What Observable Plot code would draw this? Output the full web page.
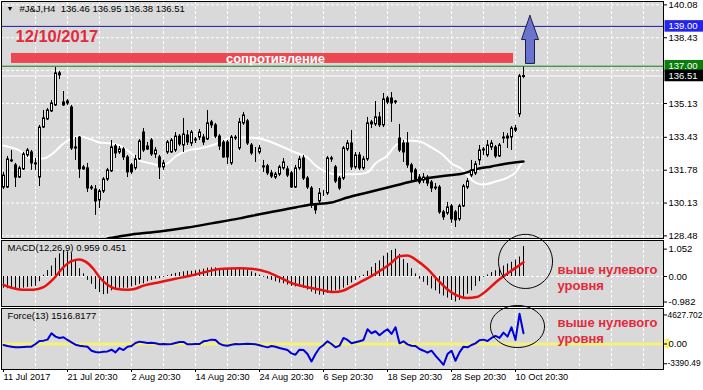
<!DOCTYPE html>
<html><head><meta charset="utf-8">
<script src="https://cdn.jsdelivr.net/npm/d3@7"></script>
<script src="https://cdn.jsdelivr.net/npm/@observablehq/plot@0.6"></script>
<style>
html,body{margin:0;padding:0;background:#fff;}
#chart{position:relative;width:703px;height:390px;overflow:hidden;background:#fff;}
#chart svg{position:absolute;left:0;}
</style></head><body><div id="chart"></div>
<script>
// ---------- DATA ----------
const open = [130.91,130.91,132.22,132.02,131.41,131.82,132.52,132.67,132.12,131.41,
133.92,134.33,134.73,135.03,136.64,135.18,135.13,134.93,132.92,133.42,
131.82,131.87,130.91,130.81,130.26,130.71,131.31,131.72,132.97,132.67,
132.82,132.42,132.02,131.87,132.32,133.67,132.97,133.27,132.57,132.42,
131.92,132.67,132.67,132.77,133.47,133.02,133.52,133.12,133.32,133.42,
133.42,133.32,134.18,134.03,133.47,133.17,133.17,132.12,133.42,132.87,
134.13,134.23,133.02,132.77,132.67,131.97,131.97,131.62,131.41,131.56,
131.87,131.82,131.62,130.91,131.87,132.37,131.36,130.86,130.01,130.21,
130.61,130.61,132.37,131.92,131.36,131.36,132.82,133.12,131.92,132.52,
131.87,132.32,134.08,134.08,134.43,134.03,135.38,135.38,135.18,133.37,
133.12,133.12,132.02,131.77,131.41,131.26,131.41,131.16,130.91,130.91,
129.66,129.61,129.96,129.66,129.31,129.96,130.91,131.51,131.61,132.27,
132.77,132.52,132.92,132.92,132.47,133.37,133.37,133.42,133.77,134.58,
136.46];
const high = [131.67,132.47,132.77,132.12,131.97,132.67,132.87,132.77,132.37,134.03,
134.78,134.88,135.28,136.94,136.74,135.73,135.33,135.03,133.42,133.47,
132.02,132.12,131.01,131.01,130.81,131.41,131.87,133.27,133.07,132.97,
132.92,132.52,132.12,132.52,133.32,133.87,133.17,133.37,132.92,132.52,
132.27,133.27,133.37,133.67,133.57,134.38,133.77,133.77,133.42,133.82,
133.57,134.78,134.28,134.13,133.57,133.27,133.27,133.52,133.52,134.38,
134.68,134.33,133.12,132.92,133.02,132.27,132.07,131.77,131.67,132.02,
132.37,131.97,131.72,132.02,132.47,132.52,131.46,130.96,130.11,130.86,
130.76,132.47,132.47,132.02,131.46,132.97,133.27,133.77,132.67,132.67,
132.47,134.43,134.28,135.23,134.68,135.63,135.48,135.68,135.28,134.08,
133.27,133.67,132.12,131.87,131.56,131.61,131.51,131.26,131.11,131.01,
129.76,130.16,130.06,129.76,130.06,131.06,131.36,132.27,132.22,133.02,
132.92,133.27,133.27,133.02,133.12,133.67,133.62,133.97,134.03,136.59,
136.95];
const low = [130.81,130.86,132.17,130.91,131.36,131.77,132.42,131.77,131.77,130.96,
133.87,134.28,134.68,134.98,136.33,134.98,135.03,132.77,132.27,131.36,
131.77,130.66,130.76,129.51,129.86,130.61,131.21,131.67,132.37,132.57,
132.27,131.41,131.57,131.77,132.27,132.67,132.77,132.47,132.37,131.31,
131.77,132.57,132.62,132.67,132.97,132.67,133.02,132.97,133.12,133.27,
133.02,133.27,133.87,133.37,132.77,132.37,132.07,132.02,133.27,132.77,
134.03,133.02,132.52,132.17,132.57,131.67,131.51,131.36,131.31,131.46,
131.77,131.41,130.86,130.86,131.77,131.26,130.81,129.86,129.56,130.11,
130.46,130.51,132.17,131.11,130.76,131.26,132.72,131.77,131.82,131.77,
131.77,132.22,133.87,133.97,133.92,133.92,135.08,134.18,135.08,132.67,
132.17,131.87,131.16,131.21,131.06,131.11,130.96,130.66,130.76,129.56,
129.26,129.51,129.11,128.90,129.21,129.91,130.81,131.41,131.51,132.02,
132.52,132.42,132.77,132.37,132.42,133.12,132.87,132.77,133.67,134.43,
136.38];
const close = [131.51,132.32,132.27,131.41,131.87,132.57,132.77,132.12,132.07,133.92,
134.38,134.78,135.13,136.64,136.54,135.03,135.23,132.87,132.87,131.82,
131.92,130.86,130.86,130.21,130.71,131.31,131.77,132.92,132.62,132.82,
132.42,131.67,131.67,132.32,133.22,132.77,132.82,132.57,132.77,131.92,
132.12,133.17,133.27,133.47,133.07,133.57,133.17,133.67,133.27,133.67,
133.17,134.13,134.03,133.47,132.97,132.42,132.42,133.42,133.37,134.18,
134.53,133.12,132.62,132.77,132.87,131.92,131.62,131.46,131.56,131.92,
132.17,131.51,130.91,131.87,132.32,131.36,130.91,130.01,129.76,130.61,
130.61,132.37,132.32,131.21,130.86,132.87,133.12,131.92,132.52,131.87,
132.32,134.13,134.18,134.43,134.03,135.33,135.18,135.13,135.23,132.77,
132.67,132.02,131.67,131.31,131.16,131.41,131.11,130.86,130.86,129.66,
129.41,129.91,129.31,129.26,129.96,130.96,131.21,131.77,132.07,132.77,
132.82,133.02,133.12,132.47,133.02,133.42,133.47,133.87,133.87,136.49,
136.51];

const fastMaBars = [0,4,7,10,12,15,17,19,22,24,27,29,32,34,37,39,41,43,46,49,52,54,57,61,64,69,73,76,78,81,83,86,88,91,93,96,98,101,104,107,110,112,115,116,118,120,123,126,128,129,130];
const fastMaValues = [133.02,132.77,132.37,132.37,132.57,133.12,133.37,133.47,133.32,133.17,133.12,133.02,132.62,132.27,132.12,132.02,132.12,132.47,132.77,132.87,133.02,133.17,133.42,133.42,133.37,133.02,132.67,132.42,132.02,131.67,131.57,131.57,131.57,131.67,132.12,132.52,133.02,133.27,133.22,132.92,132.52,132.12,131.77,131.51,131.16,131.06,131.21,131.41,131.67,131.97,132.27];
const slowMaBars = [26,32,39,46,52,59,65,73,77,82,86,90,94,98,102,107,111,115,118,122,126,130];
const slowMaValues = [128.35,128.55,128.70,128.90,129.11,129.36,129.61,129.91,130.06,130.16,130.41,130.61,130.81,131.01,131.21,131.41,131.51,131.62,131.82,131.97,132.12,132.22];

const macdHist = [-0.45,-0.47,-0.47,-0.5,-0.48,-0.45,-0.42,-0.4,-0.38,-0.2,
0.05,0.23,0.4,0.7,0.87,1.0,0.95,0.9,0.65,0.3,
0.1,-0.15,-0.3,-0.5,-0.62,-0.7,-0.68,-0.55,-0.5,-0.45,
-0.45,-0.45,-0.4,-0.35,-0.3,-0.28,-0.2,-0.15,-0.1,-0.08,
-0.03,0.03,0.08,0.12,0.15,0.18,0.2,0.2,0.22,0.25,
0.28,0.32,0.33,0.33,0.3,0.3,0.28,0.28,0.27,0.3,
0.3,0.25,0.18,0.12,0.05,-0.03,-0.1,-0.15,-0.2,-0.25,
-0.28,-0.33,-0.38,-0.4,-0.4,-0.45,-0.52,-0.6,-0.68,-0.72,
-0.72,-0.65,-0.58,-0.55,-0.52,-0.45,-0.35,-0.25,-0.15,-0.05,
0.05,0.2,0.35,0.5,0.6,0.78,0.9,1.0,1.05,0.85,
0.65,0.5,0.3,0.1,-0.1,-0.22,-0.35,-0.48,-0.55,-0.68,
-0.75,-0.83,-0.92,-0.98,-0.92,-0.8,-0.68,-0.55,-0.38,-0.2,
-0.03,0.06,0.15,0.22,0.3,0.4,0.48,0.55,0.63,0.75,
1.15];
const signalBars = [0,2.5,5,7.5,10,12.5,15,17,19,20.4,22.5,24,26,28,31,33,35,39,43,47.5,51,54,59,62.5,66,69,72.5,76,79,82.5,85,86.7,90,93.3,96.7,99,101,103.3,106,108.3,110.8,113.3,115.8,118.3,120.8,123.3,125.8,128.3,130];
const signalValues = [-0.32,-0.45,-0.51,-0.51,-0.41,-0.09,0.36,0.59,0.65,0.58,0.29,-0.03,-0.32,-0.47,-0.51,-0.47,-0.35,-0.22,-0.09,0.06,0.19,0.29,0.32,0.29,0.17,-0.03,-0.28,-0.41,-0.5,-0.6,-0.54,-0.41,-0.15,0.14,0.49,0.78,0.81,0.62,0.29,-0.09,-0.47,-0.73,-0.83,-0.79,-0.54,-0.19,0.1,0.36,0.55];

const force = [-150,-300,-400,-500,-500,-450,-400,-400,0,450,
500,650,1600,1100,900,1000,600,250,-100,-250,
-350,-400,-1000,-1200,-1250,-1150,-1100,-850,-1250,-600,
-900,-400,-300,150,350,250,150,200,100,-50,
0,-50,0,150,300,300,-50,-50,0,0,
400,500,650,600,50,-200,-250,-100,0,-50,
0,50,0,-50,-200,-350,-500,-300,-400,-600,
-750,-900,-1400,-1600,-850,-900,-1500,-2600,-1500,-600,
-150,400,0,-500,-250,900,600,100,250,400,
600,2200,1600,1900,1300,1800,2200,1500,2500,100,
400,-50,-250,-300,-750,-1000,-1300,-1000,-1750,-2400,
-3100,-1500,-1000,-2500,-1250,-400,-500,-150,100,550,
650,450,900,1200,900,1700,1100,2500,600,4500,
1600];

const priceTicks = [140.08,138.43,135.13,133.43,131.78,130.13,128.48];
const priceGrid = [140.08,138.43,136.78,135.13,133.43,131.78,130.13,128.48];
const levelPrices = [139.00, 137.00, 136.51];
const macdTicks = [1.052, 0, -0.982];
const forceTicks = [4627.702, 0, -3390.49];
const xTickBars = [0,16,32,48,64,80,96,112,128];
const xTickLabels = ["11 Jul 2017","21 Jul 20:30","2 Aug 20:30","14 Aug 20:30","24 Aug 20:30","6 Sep 20:30","18 Sep 20:30","28 Sep 20:30","10 Oct 20:30"];

const headerText = "#J&J,H4  136.46 136.95 136.38 136.51";
const dateText = "12/10/2017";
const macdTitle = "MACD(12,26,9) 0.959 0.451";
const forceTitle = "Force(13) 1516.8177";
const noteLines = ["выше нулевого", "уровня"];
const resistance = {bar1: 2, bar2: 127.5, low: 137.14, high: 137.64, labelBar: 68, label: "сопротивление"};
const arrowShape = [[131.6,139.55],[133.75,138.34],[132.75,138.34],[132.75,137.14],[130.5,137.14],[130.5,138.34],[129.5,138.34],[131.6,139.55]];
const macdCircle = {bar: 130.5, value: 0.58, rBars: 6.75, rValue: 1.04};
const forceEllipse = {bar: 128.5, value: 2607, rBars: 6.75, rValue: 3129};
const macdNoteBar = 138.5, macdNoteValues = [0.27, -0.35];
const forceNoteBar = 138.5, forceNoteValues = [3200, 820];

// ---------- STYLE ----------
const FONT = "'Liberation Sans', Arial, sans-serif";
const PANEL = "#d9d9d9";
const RED = "#e3293b";
const X_DOMAIN = [-0.5, 165];
const W = 703, ML = 1, MR = 40;
const gridBars = d3.range(8, 165, 8);
const dash = "3,2";

const bars = open.map((o, i) => ({i, o, h: high[i], l: low[i], c: close[i]}));
const up = bars.filter(d => d.c >= d.o), down = bars.filter(d => d.c < d.o);
const fastMa = fastMaBars.map((b, i) => ({b, v: fastMaValues[i]}));
const slowMa = slowMaBars.map((b, i) => ({b, v: slowMaValues[i]}));
const hist = macdHist.map((v, i) => ({i, v}));
const signal = signalBars.map((b, i) => ({b, v: signalValues[i]}));
const forceData = force.map((v, i) => ({i, v}));
const arrowPts = arrowShape.map(([b, v]) => ({b, v}));
const ellipse = e => d3.range(73).map(j => {
  const t = 2 * Math.PI * j / 72;
  return {b: e.bar + e.rBars * Math.cos(t), v: e.value + e.rValue * Math.sin(t)};
});
const baseStyle = {fontFamily: FONT, fontSize: "9px", background: "white", color: "black", overflow: "visible"};

const levelLine = ["#1a1ab0", "#0b7d0b", "#ffffff"];
const levelBg = ["#2424ee", "#0b7d0b", "#000000"];

const chart = document.getElementById("chart");

// ---------- MAIN PRICE PANEL ----------
const levelMarks = levelPrices.flatMap((p, k) => [
  Plot.rect([p], {x1: X_DOMAIN[1] + 0.375, x2: X_DOMAIN[1] + 11, y1: d => d - 0.29, y2: d => d + 0.29, fill: levelBg[k]}),
  Plot.text([p], {y: d => d, text: d => d.toFixed(2), frameAnchor: "right", dx: 5, textAnchor: "start", fill: "white", fontSize: 9.5})
]);

const main = Plot.plot({
  width: W, height: 239, marginLeft: ML, marginRight: MR, marginTop: 1, marginBottom: 1,
  x: {domain: X_DOMAIN, axis: null},
  y: {domain: [128.35, 140.25], axis: null},
  style: baseStyle,
  marks: [
    Plot.frame({fill: PANEL, stroke: "none"}),
    Plot.ruleX(gridBars, {stroke: "white", strokeDasharray: dash}),
    Plot.ruleY(priceGrid, {stroke: "white", strokeDasharray: dash}),
    Plot.rect([resistance], {x1: "bar1", x2: "bar2", y1: "low", y2: "high", fill: "#ec4852"}),
    Plot.text([resistance], {x: "labelBar", y: d => (d.low + d.high) / 2, text: "label", fill: "white", fontSize: 13, fontWeight: "bold"}),
    ...levelPrices.map((p, k) => Plot.ruleY([p], {stroke: levelLine[k]})),
    Plot.line(fastMa, {x: "b", y: "v", stroke: "white", strokeWidth: 2, curve: "monotone-x"}),
    Plot.line(slowMa, {x: "b", y: "v", stroke: "black", strokeWidth: 2.5, curve: "monotone-x"}),
    Plot.ruleX(bars, {x: "i", y1: "l", y2: "h", stroke: "black"}),
    Plot.rect(up, {x1: d => d.i - 0.125, x2: d => d.i + 0.375, y1: "o", y2: "c", fill: "white", stroke: "black"}),
    Plot.rect(down, {x1: d => d.i - 0.125, x2: d => d.i + 0.375, y1: "o", y2: "c", fill: "black", stroke: "black"}),
    Plot.line(arrowPts, {x: "b", y: "v", fill: "#6a74cc", stroke: "#1c1c4a", strokeWidth: 1, curve: "linear"}),
    Plot.text(["▼"], {frameAnchor: "top-left", dx: 5, dy: 5, lineAnchor: "top", fontSize: 7}),
    Plot.text([headerText], {frameAnchor: "top-left", dx: 18, dy: 4, lineAnchor: "top", fontSize: 9.5}),
    Plot.text([dateText], {frameAnchor: "top-left", dx: 14, dy: 29, lineAnchor: "top", fill: RED, fontSize: 16.5, fontWeight: "bold"}),
    Plot.axisY(priceTicks, {anchor: "right", tickSize: 3, tickPadding: 2, tickFormat: d => d.toFixed(2), label: null, fontSize: 9.5}),
    ...levelMarks,
    Plot.frame({stroke: "black"})
  ]
});
main.style.top = "0px";
chart.appendChild(main);

// ---------- MACD PANEL ----------
const macd = Plot.plot({
  width: W, height: 68, marginLeft: ML, marginRight: MR, marginTop: 1, marginBottom: 1,
  x: {domain: X_DOMAIN, axis: null},
  y: {domain: [-1.154, 1.385], axis: null},
  style: baseStyle,
  marks: [
    Plot.frame({fill: PANEL, stroke: "none"}),
    Plot.ruleX(gridBars, {stroke: "white", strokeDasharray: dash}),
    Plot.ruleY([0], {stroke: "white", strokeDasharray: dash}),
    Plot.ruleX(hist, {x: "i", y1: 0, y2: "v", stroke: "black"}),
    Plot.line(signal, {x: "b", y: "v", stroke: "#e81212", strokeWidth: 2.5, curve: "monotone-x"}),
    Plot.line(ellipse(macdCircle), {x: "b", y: "v", stroke: "black", strokeWidth: 1, curve: "linear"}),
    Plot.text(noteLines, {x: macdNoteBar, y: (d, i) => macdNoteValues[i], text: d => d, textAnchor: "start", fill: RED, fontSize: 13, fontWeight: "bold"}),
    Plot.text([macdTitle], {frameAnchor: "top-left", dx: 6, dy: 4, lineAnchor: "top", fontSize: 9.5}),
    Plot.axisY(macdTicks, {anchor: "right", tickSize: 3, tickPadding: 2, tickFormat: d => d === 0 ? "0.00" : d.toFixed(3), label: null, fontSize: 9.5}),
    Plot.frame({stroke: "black"})
  ]
});
macd.style.top = "239px";
chart.appendChild(macd);

// ---------- FORCE PANEL ----------
const forcePlot = Plot.plot({
  width: W, height: 83, marginLeft: ML, marginRight: MR, marginTop: 1, marginBottom: 21,
  x: {domain: X_DOMAIN, axis: null},
  y: {domain: [-3800, 5290], axis: null},
  style: baseStyle,
  marks: [
    Plot.frame({fill: PANEL, stroke: "none"}),
    Plot.ruleX(gridBars, {stroke: "white", strokeDasharray: dash}),
    Plot.ruleY([0], {stroke: "#f5f27a", strokeWidth: 3}),
    Plot.line(forceData, {x: "i", y: "v", stroke: "#0000dd", strokeWidth: 2, curve: "linear"}),
    Plot.line(ellipse(forceEllipse), {x: "b", y: "v", stroke: "black", strokeWidth: 1, curve: "linear"}),
    Plot.text(noteLines, {x: forceNoteBar, y: (d, i) => forceNoteValues[i], text: d => d, textAnchor: "start", fill: RED, fontSize: 13, fontWeight: "bold"}),
    Plot.text([forceTitle], {frameAnchor: "top-left", dx: 6, dy: 4, lineAnchor: "top", fontSize: 9.5}),
    Plot.rect([0], {x1: X_DOMAIN[1] + 0.375, x2: X_DOMAIN[1] + 1.8, y1: -700, y2: 700, fill: "#f5f27a"}),
    Plot.axisY([forceTicks[0]], {anchor: "right", tickSize: 3, tickPadding: 1, tickFormat: d => d.toFixed(3), label: null, fontSize: 8.4, dy: 2}),
    Plot.axisY([forceTicks[1]], {anchor: "right", tickSize: 3, tickPadding: 2, tickFormat: () => "0.00", label: null, fontSize: 9.5}),
    Plot.axisY([forceTicks[2]], {anchor: "right", tickSize: 3, tickPadding: 1, tickFormat: d => d.toFixed(2), label: null, fontSize: 8.4, dy: -3}),
    Plot.axisX(xTickBars, {anchor: "bottom", tickSize: 3, tickPadding: 1, tickFormat: d => xTickLabels[xTickBars.indexOf(d)], textAnchor: "start", label: null, fontSize: 9.2}),
    Plot.frame({stroke: "black"})
  ]
});
forcePlot.style.top = "307px";
chart.appendChild(forcePlot);
</script>
</body></html>
